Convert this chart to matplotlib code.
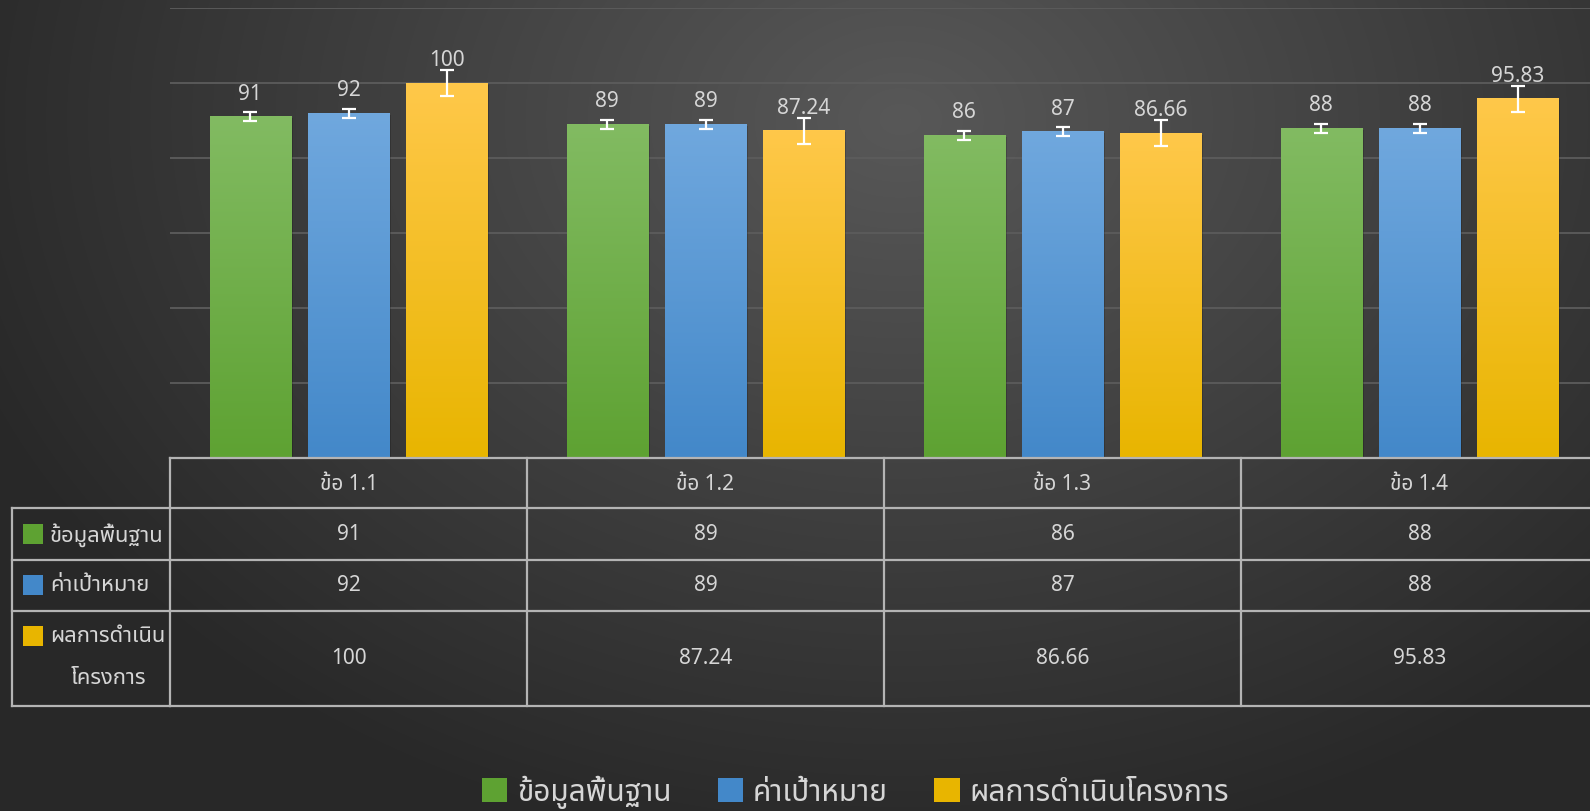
import numpy as np
import matplotlib
matplotlib.use("Agg")
import matplotlib.pyplot as plt
from matplotlib import font_manager
from matplotlib.ft2font import FT2Font
from matplotlib.patches import Rectangle, Patch
from matplotlib.lines import Line2D
from matplotlib.colors import to_rgb
import matplotlib.transforms as mtransforms

# data
categories = ["ข้อ 1.1", "ข้อ 1.2", "ข้อ 1.3", "ข้อ 1.4"]
series_names = ["ข้อมูลพื้นฐาน", "ค่าเป้าหมาย", "ผลการดำเนินโครงการ"]
row_labels = ["ข้อมูลพื้นฐาน", "ค่าเป้าหมาย", "ผลการดำเนิน\nโครงการ"]
baseline = [91, 89, 86, 88]
target = [92, 89, 87, 88]
result = [100, 87.24, 86.66, 95.83]
err_baseline = [1.2, 1.2, 1.2, 1.2]
err_target = [1.2, 1.2, 1.2, 1.2]
err_result = [3.5, 3.5, 3.5, 3.5]

values = [baseline, target, result]
errors = [err_baseline, err_target, err_result]
top_colors = ["#82bb62", "#70a8de", "#ffc84a"]
bot_colors = ["#5ea232", "#4388c9", "#e8b500"]
TXT = "#d6d6d6"
LINE = "#b4b4b4"

W, H = 1590, 812


def find_thai_font():
    preferred = ["Noto Sans Thai", "Noto Sans Thai UI", "Noto Looped Thai",
                 "Leelawadee UI", "Tahoma", "Sarabun", "Loma", "Garuda",
                 "Waree", "Umpush", "Kinnari", "Norasi", "Laksaman"]
    found = {}
    for f in font_manager.fontManager.ttflist:
        if f.name in found:
            continue
        try:
            cmap = FT2Font(f.fname).get_charmap()
        except Exception:
            continue
        if 0x0E02 in cmap and 0x0E49 in cmap:
            found[f.name] = f.fname
    for p in preferred:
        if p in found:
            return p
    if found:
        return sorted(found)[0]
    return None


thai = find_thai_font()
fams = [thai, "DejaVu Sans"] if thai else ["DejaVu Sans"]
plt.rcParams["font.family"] = fams

fig = plt.figure(figsize=(W / 100, H / 100), dpi=100)


def fx(px):
    return px / W


def fy(py):
    return 1 - py / H


# background radial gradient
bg = fig.add_axes([0, 0, 1, 1], zorder=-10)
yy, xx = np.mgrid[0:H, 0:W]
r = np.sqrt(((xx - 900) / 1000.0) ** 2 + ((yy - 120) / 750.0) ** 2)
r = np.clip(r, 0, 1)
c0 = np.array([88, 88, 88]) / 255.0
c1 = np.array([40, 40, 40]) / 255.0
img = c0[None, None, :] * (1 - r[..., None]) + c1[None, None, :] * r[..., None]
bg.imshow(img, aspect="auto", extent=(0, 1, 0, 1), origin="upper")
bg.set_axis_off()

# main plot axes
left, right = 170, 1598
top, bottom = 9, 459
ax = fig.add_axes([fx(left), fy(bottom), fx(right - left), (bottom - top) / H])
ax.patch.set_alpha(0)
ax.set_xlim(-0.5, len(categories) - 0.5)
ax.set_ylim(0, 120)
ax.set_yticks(np.arange(0, 121, 20))
ax.yaxis.grid(True, color="#5c5c5c", lw=1.3)
ax.set_axisbelow(True)
ax.tick_params(left=False, bottom=False, labelleft=False, labelbottom=False)
for s in ax.spines.values():
    s.set_visible(False)

x = np.arange(len(categories))
bw = 0.227
offs = [-0.275, 0, 0.275]
for k in range(3):
    bars = ax.bar(x + offs[k], values[k], bw, color=bot_colors[k], zorder=2)
    grad = np.linspace(0, 1, 256)[:, None]
    ct, cb = np.array(to_rgb(top_colors[k])), np.array(to_rgb(bot_colors[k]))
    gimg = ct[None, None, :] * (1 - grad[..., None]) + cb[None, None, :] * grad[..., None]
    for b in bars:
        # soft shadow
        ax.add_patch(Rectangle((b.get_x() + 0.006, 0), b.get_width(), b.get_height() - 0.4,
                               color="black", alpha=0.18, zorder=1.5, lw=0))
        ax.imshow(gimg, extent=(b.get_x(), b.get_x() + b.get_width(), 0, b.get_height()),
                  aspect="auto", origin="upper", zorder=2.1)
    ax.errorbar(x + offs[k], values[k], yerr=errors[k], fmt="none", ecolor="white",
                elinewidth=1.6, capsize=4.8, capthick=1.6, zorder=3)
    for xi, v in zip(x + offs[k], values[k]):
        ax.annotate(f"{v:g}", (xi, v), xytext=(0, 13), textcoords="offset points",
                    ha="center", va="baseline", fontsize=15, color=TXT)
ax.set_xlim(-0.5, len(categories) - 0.5)
ax.set_ylim(0, 120)

# data table
tr = mtransforms.blended_transform_factory(ax.transData, fig.transFigure)
row_y = [459, 509, 561, 612, 707]
lkw = dict(color=LINE, lw=1.6, clip_on=False)
# horizontal lines
for i, py in enumerate(row_y):
    fig.add_artist(Line2D([-0.5, 3.6], [fy(py), fy(py)], transform=tr, **lkw))
    if i >= 1:
        fig.add_artist(Line2D([fx(12), fx(left)], [fy(py), fy(py)], **lkw))
# vertical lines
for xb in np.arange(-0.5, len(categories), 1.0):
    fig.add_artist(Line2D([xb, xb], [fy(459), fy(707)], transform=tr, **lkw))
fig.add_artist(Line2D([fx(12), fx(12)], [fy(509), fy(707)], **lkw))

for i, c in enumerate(categories):
    fig.text(i, fy(484), c, transform=tr, ha="center", va="center", fontsize=15, color=TXT)

row_mid = [535, 586, 659]
for k in range(3):
    for i in range(len(categories)):
        fig.text(i, fy(row_mid[k]), f"{values[k][i]:g}", transform=tr, ha="center",
                 va="center", fontsize=15, color=TXT)

label_y = [535, 586, 637]
for k in range(3):
    fig.add_artist(Rectangle((fx(23), fy(label_y[k] + 10)), fx(20), 20 / H,
                             color=bot_colors[k], lw=0))
    lines = row_labels[k].split("\n")
    fig.text(fx(50), fy(label_y[k]), lines[0], ha="left", va="center", fontsize=15.8, color=TXT)
    if len(lines) > 1:
        fig.text(fx(71), fy(678), lines[1], ha="left", va="center", fontsize=15.8, color=TXT)

# legend
handles = [Patch(facecolor=bot_colors[k], edgecolor="none") for k in range(3)]
fig.legend(handles, series_names, loc="center", bbox_to_anchor=(0.538, 0.024), ncol=3,
           frameon=False, fontsize=21.5, handlelength=0.85, handleheight=0.85,
           handletextpad=0.33, columnspacing=1.55, labelcolor=TXT)

fig.savefig("out.png", dpi=100)
